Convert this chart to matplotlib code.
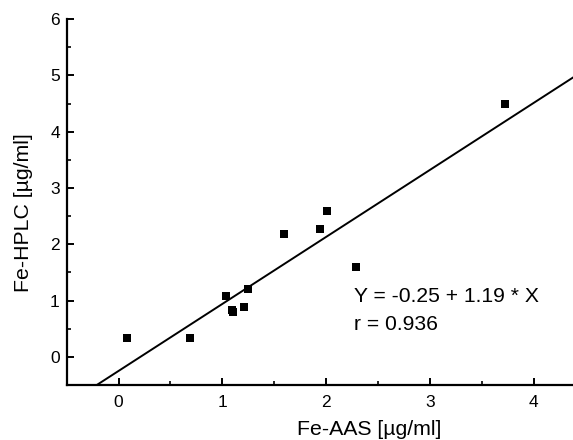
import matplotlib
matplotlib.use("Agg")
import matplotlib.pyplot as plt
import numpy as np
from matplotlib.ticker import MultipleLocator

plt.rcParams['font.family'] = ['Liberation Sans', 'DejaVu Sans']

# Data
fe_aas = [0.08, 0.69, 1.04, 1.09, 1.10, 1.21, 1.25, 1.59, 1.94, 2.01, 2.29, 3.72]
fe_hplc = [0.34, 0.33, 1.08, 0.84, 0.80, 0.88, 1.20, 2.19, 2.27, 2.59, 1.60, 4.50]
intercept = -0.25
slope = 1.19
r_value = 0.936

xlim = (-0.5, 4.38)
ylim = (-0.5, 6.0)
x_ticks = [0, 1, 2, 3, 4]
y_ticks = [0, 1, 2, 3, 4, 5, 6]

fig = plt.figure(figsize=(5.73, 4.4), dpi=100)
ax = fig.add_axes([66.7 / 573, 1 - 385 / 440, 1 - 66.7 / 573, (385 - 19.1) / 440])

ax.scatter(fe_aas, fe_hplc, marker='s', s=40, color='black', zorder=3, linewidths=0)
xl = np.array(xlim)
ax.plot(xl, intercept + slope * xl, color='black', lw=1.4)

ax.set_xlim(*xlim)
ax.set_ylim(*ylim)
ax.set_xticks(x_ticks)
ax.set_yticks(y_ticks)
ax.xaxis.set_minor_locator(MultipleLocator(0.5))
ax.yaxis.set_minor_locator(MultipleLocator(0.5))

for s in ['top', 'right']:
    ax.spines[s].set_visible(False)
for s in ['left', 'bottom']:
    ax.spines[s].set_linewidth(1.6)

ax.tick_params(axis='both', which='major', direction='in', length=5, width=1.4,
               labelsize=12.5)
ax.tick_params(axis='both', which='minor', direction='in', length=3, width=1.2)
ax.tick_params(axis='x', which='major', pad=7)
ax.tick_params(axis='y', which='major', pad=5)

fig.text(24 / 573, 1 - 213 / 440, 'Fe-HPLC [µg/ml]', rotation=90,
         ha='center', va='center', fontsize=15.3)
fig.text(368.7 / 573, 1 - 434.5 / 440, 'Fe-AAS [µg/ml]',
         ha='center', va='baseline', fontsize=15.3)

fig.text(354 / 573, 1 - 301.7 / 440,
         f'Y = {intercept:.2f} + {slope:.2f} * X', ha='left', va='baseline', fontsize=15.2)
fig.text(354 / 573, 1 - 330 / 440,
         f'r = {r_value:.3f}', ha='left', va='baseline', fontsize=15.2)

fig.savefig('out.png', dpi=100)
